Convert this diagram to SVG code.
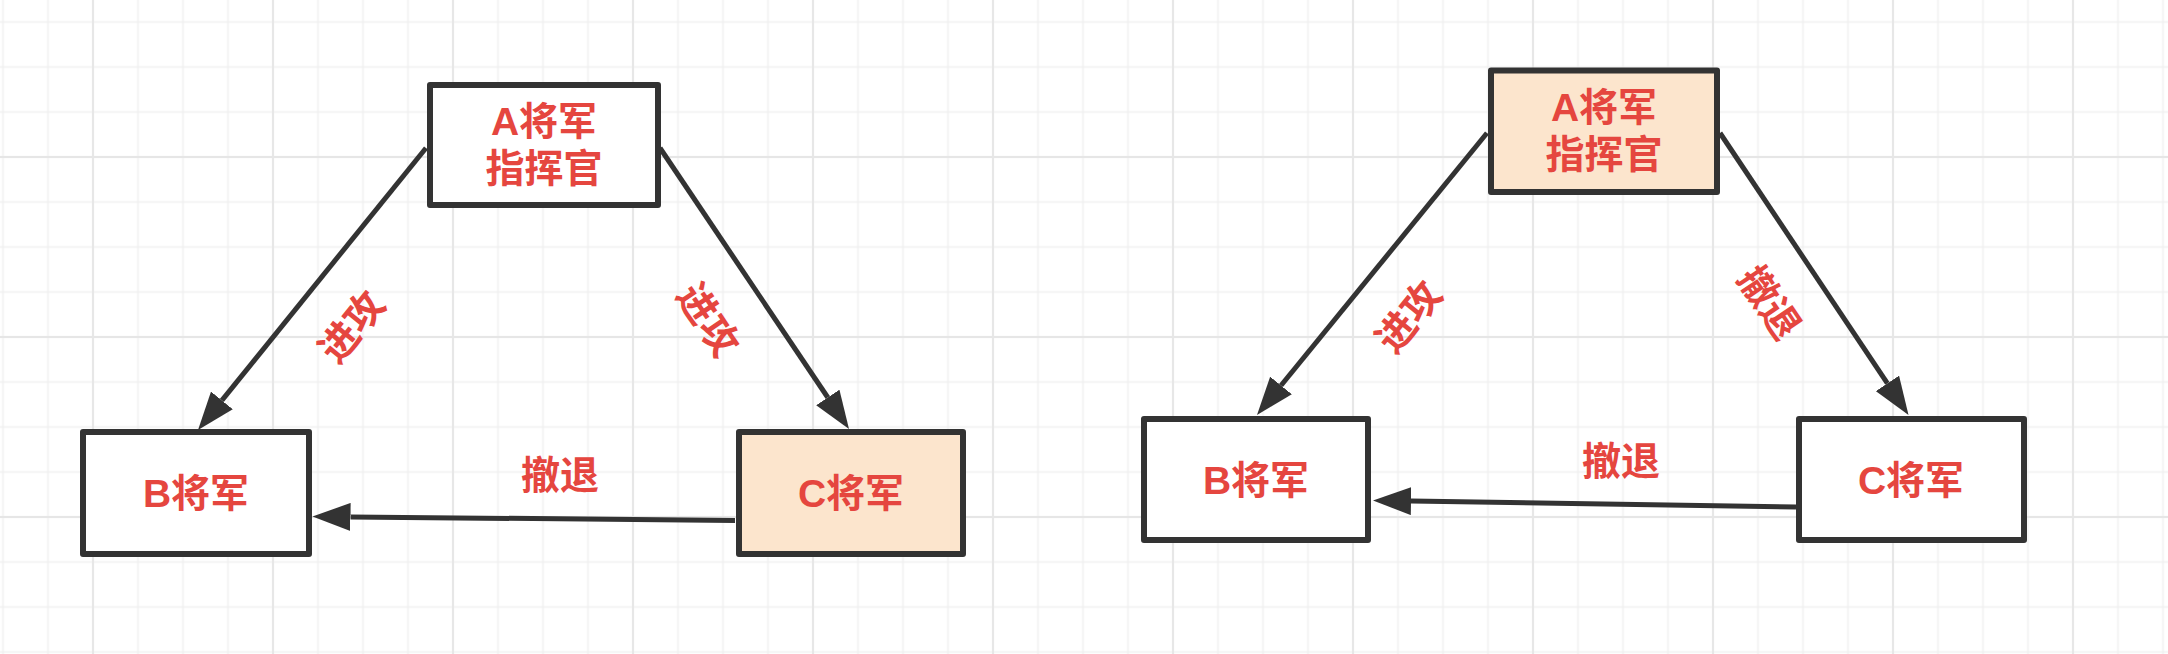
<svg xmlns="http://www.w3.org/2000/svg" width="2168" height="654" viewBox="0 0 2168 654">
  <style>
    .box { stroke: #333333; stroke-width: 6; stroke-linejoin: round; }
    .plain { fill: #ffffff; }
    .hl { fill: #fce5cd; }
    .txt { font-family: "Liberation Sans", "Noto Sans CJK SC", sans-serif; font-size: 39px; font-weight: bold; fill: #e5463f; text-anchor: middle; dominant-baseline: central; }
    .edge { stroke: #333333; stroke-width: 5; fill: none; marker-end: url(#arrow); }
  </style>
  <defs>
    <pattern id="minor" patternUnits="userSpaceOnUse" x="-19.5" y="-0.5" width="45" height="45">
      <path d="M22.5,0 V45 M0,22.5 H45" stroke="#f0f0f0" stroke-width="1.5" fill="none"/>
    </pattern>
    <pattern id="major" patternUnits="userSpaceOnUse" x="3" y="67" width="180" height="180">
      <path d="M90,0 V180 M0,90 H180" stroke="#e6e6e6" stroke-width="1.8" fill="none"/>
    </pattern>
    <marker id="arrow" markerUnits="userSpaceOnUse" markerWidth="38" markerHeight="28" viewBox="0 0 38 28" refX="0" refY="14" orient="auto">
      <path d="M0,0 L38,14 L0,28 z" fill="#333333"/>
    </marker>
  </defs>

  <g id="background">
    <rect x="0" y="0" width="2168" height="654" fill="#ffffff"/>
    <rect x="0" y="0" width="2168" height="654" fill="url(#minor)"/>
    <rect x="0" y="0" width="2168" height="654" fill="url(#major)"/>
  </g>

  <g id="connectors">
    <path id="edge-l-ab" class="edge" d="M426,148 L221.9,400.4"/>
    <path id="edge-l-ac" class="edge" d="M660,148 L827.8,397.5"/>
    <path id="edge-l-cb" class="edge" d="M735,520.5 L350.5,516.9"/>
    <path id="edge-r-ab" class="edge" d="M1487,133 L1281,385.5"/>
    <path id="edge-r-ac" class="edge" d="M1720,133 L1887.4,383.4"/>
    <path id="edge-r-cb" class="edge" d="M1796,507 L1411,501.1"/>
  </g>

  <g id="edge-labels">
    <text class="txt" transform="translate(352,327) rotate(-51)">进攻</text>
    <text class="txt" transform="translate(708,320) rotate(56)">进攻</text>
    <text class="txt" x="560" y="475">撤退</text>
    <text class="txt" transform="translate(1409,317) rotate(-51)">进攻</text>
    <text class="txt" transform="translate(1769,303) rotate(56)">撤退</text>
    <text class="txt" x="1621" y="461">撤退</text>
  </g>

  <g id="left-A">
    <rect class="box plain" x="430" y="85" width="228" height="120"/>
    <text class="txt" x="544" y="121">A将军</text>
    <text class="txt" x="544" y="168">指挥官</text>
  </g>
  <g id="left-B">
    <rect class="box plain" x="83" y="432" width="226" height="122"/>
    <text class="txt" x="196" y="493">B将军</text>
  </g>
  <g id="left-C">
    <rect class="box hl" x="739" y="432" width="224" height="122"/>
    <text class="txt" x="851" y="493">C将军</text>
  </g>

  <g id="right-A">
    <rect class="box hl" x="1491" y="70.5" width="226" height="121.5"/>
    <text class="txt" x="1604" y="107">A将军</text>
    <text class="txt" x="1604" y="154">指挥官</text>
  </g>
  <g id="right-B">
    <rect class="box plain" x="1144" y="419" width="224" height="121"/>
    <text class="txt" x="1256" y="480">B将军</text>
  </g>
  <g id="right-C">
    <rect class="box plain" x="1799" y="419" width="225" height="121"/>
    <text class="txt" x="1911" y="480">C将军</text>
  </g>
</svg>
